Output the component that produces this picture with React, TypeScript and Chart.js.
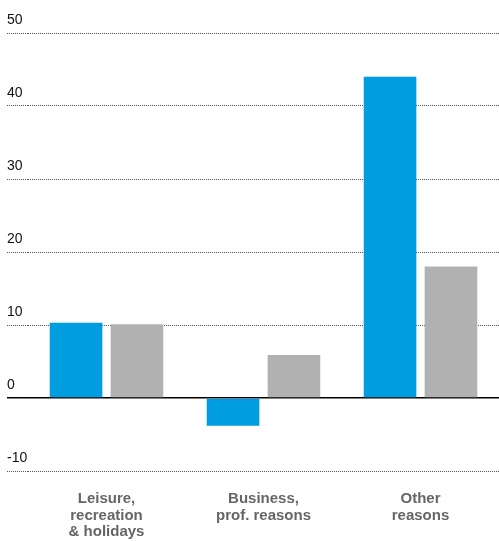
import React, { useEffect, useRef } from "react";
import { Chart, registerables } from "chart.js";

Chart.register(...registerables);

const categories: string[][] = [
  ["Leisure,", "recreation", "& holidays"],
  ["Business,", "prof. reasons"],
  ["Other", "reasons"],
];
const seriesBlue: number[] = [10.3, -3.8, 44.0];
const seriesGray: number[] = [10.1, 5.9, 18.0];
const yMin = -10;
const yMax = 50;
const yStep = 10;

export default function App() {
  const ref = useRef<HTMLCanvasElement | null>(null);

  useEffect(() => {
    if (!ref.current) return;
    const isZero = (ctx: any) => ctx.tick && ctx.tick.value === 0;
    const chart = new Chart(ref.current, {
      type: "bar",
      data: {
        labels: categories,
        datasets: [
          {
            label: "A",
            data: seriesBlue,
            backgroundColor: "#009de0",
            categoryPercentage: 0.776,
            barPercentage: 0.864,
          },
          {
            label: "B",
            data: seriesGray,
            backgroundColor: "#b1b1b1",
            categoryPercentage: 0.776,
            barPercentage: 0.864,
          },
        ],
      },
      options: {
        animation: false,
        responsive: true,
        maintainAspectRatio: false,
        layout: { padding: { top: 33, left: 7, right: 0, bottom: 0 } },
        plugins: {
          legend: { display: false },
          tooltip: { enabled: false },
        },
        scales: {
          x: {
            grid: { display: false, drawTicks: false },
            border: { display: false },
            ticks: {
              color: "#666666",
              font: { family: "'Liberation Sans', Arial, sans-serif", size: 15, weight: "bold", lineHeight: 1.1 },
              padding: 20,
              maxRotation: 0,
              autoSkip: false,
            },
            afterFit: (scale: any) => {
              scale.height = 70;
            },
          },
          y: {
            min: yMin,
            max: yMax,
            z: 1,
            grid: {
              color: (ctx: any) => (isZero(ctx) ? "#000000" : "#555555"),
              lineWidth: (ctx: any) => (isZero(ctx) ? 1.5 : 1),
              drawTicks: true,
              tickLength: 21,
              tickColor: (ctx: any) => (isZero(ctx) ? "#000000" : "#555555"),
              tickWidth: (ctx: any) => (isZero(ctx) ? 1.5 : 1),
              tickBorderDash: (ctx: any) => (isZero(ctx) ? [] : [1, 1]),
            },
            border: {
              display: false,
              dash: (ctx: any) => (isZero(ctx) ? [] : [1, 1]),
            },
            ticks: {
              stepSize: yStep,
              color: "#111111",
              font: { family: "'Liberation Sans', Arial, sans-serif", size: 14 },
              crossAlign: "far",
              labelOffset: -13,
              padding: 0,
            },
            afterFit: (scale: any) => {
              scale.width = 21;
            },
          },
        },
      },
    } as any);
    return () => chart.destroy();
  }, []);

  return (
    <div style={{ position: "absolute", left: 0, top: 0, width: 499, height: 541 }}>
      <canvas ref={ref} />
    </div>
  );
}
